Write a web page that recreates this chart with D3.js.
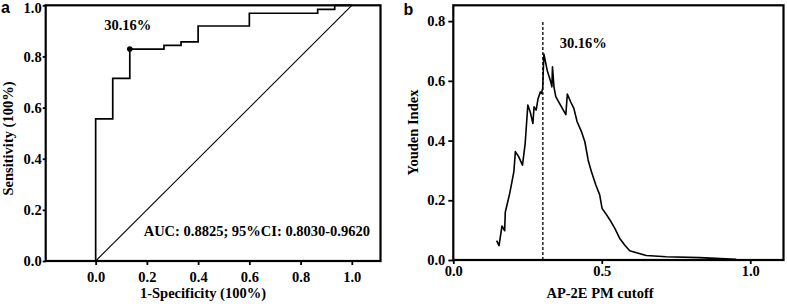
<!DOCTYPE html>
<html>
<head>
<meta charset="utf-8">
<script src="https://cdn.jsdelivr.net/npm/d3@7"></script>
<style>
  body { margin: 0; background: #fff; }
  svg { display: block; }
  .tick text { font-family: "Liberation Serif", "Times New Roman", serif; font-weight: bold; font-size: 14.5px; fill: #000; }
  .lbl { font-family: "Liberation Serif", "Times New Roman", serif; font-weight: bold; font-size: 14.5px; fill: #000; }
  .panel { font-family: "Liberation Sans", Arial, sans-serif; font-weight: bold; font-size: 16px; fill: #000; }
</style>
</head>
<body>
<script>
// ROC curve (panel a) - step corners
var rocFpr = [0, 0, 0.0667, 0.1333, 0.2667, 0.3333, 0.4, 0.6, 0.8667, 0.9333, 1];
var rocTpr = [0, 0.556, 0.714, 0.829, 0.843, 0.857, 0.919, 0.969, 0.984, 1, 1];
var bestFpr = 0.1333, bestTpr = 0.829;

// Youden index vs cutoff (panel b)
var cutoff = [0.146, 0.154, 0.164, 0.173, 0.175, 0.190, 0.204, 0.209, 0.220, 0.233,
              0.242, 0.251, 0.259, 0.268, 0.272, 0.279, 0.285, 0.293, 0.297, 0.301,
              0.305, 0.317, 0.328, 0.332, 0.334, 0.339, 0.345, 0.361, 0.379, 0.384,
              0.395, 0.406, 0.417, 0.432, 0.443, 0.454, 0.465, 0.480, 0.493, 0.501,
              0.513, 0.527, 0.544, 0.560, 0.577, 0.594, 0.617, 0.650, 0.717, 0.830, 0.953];
var youden = [0.065, 0.048, 0.114, 0.098, 0.160, 0.223, 0.296, 0.363, 0.346, 0.318,
              0.390, 0.519, 0.496, 0.457, 0.513, 0.502, 0.538, 0.563, 0.558, 0.575,
              0.690, 0.632, 0.597, 0.580, 0.647, 0.580, 0.547, 0.519, 0.487, 0.556,
              0.530, 0.508, 0.463, 0.429, 0.396, 0.335, 0.296, 0.251, 0.218, 0.173,
              0.156, 0.135, 0.106, 0.073, 0.050, 0.031, 0.024, 0.015, 0.011, 0.008, 0.002];
var bestCutoff = 0.3016;

var ticksA = [0, 0.2, 0.4, 0.6, 0.8, 1.0];
var ticksBx = [0, 0.5, 1.0];
var ticksBy = [0, 0.2, 0.4, 0.6, 0.8];

var w = 787, h = 306;
var svg = d3.select("body").append("svg").attr("width", w).attr("height", h);
var fmt = d3.format(".1f");

// ---------- panel a ----------
var xa = d3.scaleLinear().domain([-0.195, 1.112]).range([45.7, 380.5]);
var ya = d3.scaleLinear().domain([0, 1]).range([261, 5.3]);

var ga = svg.append("g");
ga.append("g").attr("transform", "translate(0,261)")
  .call(d3.axisBottom(xa).tickValues(ticksA).tickFormat(fmt).tickSize(4).tickPadding(7).tickSizeOuter(0));
var yAxA = ga.append("g").attr("transform", "translate(45.7,0)")
  .call(d3.axisLeft(ya).tickValues(ticksA).tickFormat(fmt).tickSize(3).tickPadding(1).tickSizeOuter(0));
// keep the top label inside the picture
yAxA.selectAll(".tick text").filter(function(d) { return d === 1; }).attr("dy", "0.52em");

ga.append("line")
  .attr("x1", xa(0)).attr("y1", ya(0)).attr("x2", xa(1)).attr("y2", ya(1))
  .attr("stroke", "#000").attr("stroke-width", 1.1);

var rocLine = d3.line()
  .x(function(d, i) { return xa(rocFpr[i]); })
  .y(function(d, i) { return ya(rocTpr[i]); })
  .curve(d3.curveStepAfter);
ga.append("path").datum(rocFpr).attr("d", rocLine)
  .attr("fill", "none").attr("stroke", "#000").attr("stroke-width", 1.7);

ga.append("circle").attr("cx", xa(bestFpr)).attr("cy", ya(bestTpr)).attr("r", 2.8).attr("fill", "#000");

ga.append("rect").attr("x", 45.7).attr("y", 5.3).attr("width", 380.5 - 45.7).attr("height", 261 - 5.3)
  .attr("fill", "none").attr("stroke", "#000").attr("stroke-width", 2.2);

ga.append("text").attr("class", "lbl").attr("x", 127.7).attr("y", 30).attr("text-anchor", "middle").text("30.16%");
ga.append("text").attr("class", "lbl").attr("x", 370).attr("y", 235.5).attr("text-anchor", "end")
  .text("AUC: 0.8825; 95%CI: 0.8030-0.9620");
ga.append("text").attr("class", "lbl").attr("x", 203).attr("y", 298).attr("text-anchor", "middle")
  .text("1-Specificity (100%)");
ga.append("text").attr("class", "lbl").attr("text-anchor", "middle")
  .attr("transform", "translate(12.5,138.5) rotate(-90)").text("Sensitivity (100%)");
ga.append("text").attr("class", "panel").attr("x", 1).attr("y", 13).text("a");

// ---------- panel b ----------
var xb = d3.scaleLinear().domain([0, 1.112]).range([453.3, 783.5]);
var yb = d3.scaleLinear().domain([0, 0.853]).range([260, 5.3]);

var gb = svg.append("g");
gb.append("g").attr("transform", "translate(0,260)")
  .call(d3.axisBottom(xb).tickValues(ticksBx).tickFormat(fmt).tickSize(4).tickPadding(2).tickSizeOuter(0));
gb.append("g").attr("transform", "translate(453.3,0)")
  .call(d3.axisLeft(yb).tickValues(ticksBy).tickFormat(fmt).tickSize(5).tickPadding(3).tickSizeOuter(0));

gb.append("line")
  .attr("x1", xb(bestCutoff)).attr("x2", xb(bestCutoff)).attr("y1", yb(0)).attr("y2", yb(0.8))
  .attr("stroke", "#000").attr("stroke-width", 1.3).attr("stroke-dasharray", "3,2");

var youdenLine = d3.line()
  .x(function(d, i) { return xb(cutoff[i]); })
  .y(function(d, i) { return yb(youden[i]); });
gb.append("path").datum(cutoff).attr("d", youdenLine)
  .attr("fill", "none").attr("stroke", "#000").attr("stroke-width", 1.6).attr("stroke-linejoin", "round");

gb.append("rect").attr("x", 453.3).attr("y", 5.3).attr("width", 783.5 - 453.3).attr("height", 260 - 5.3)
  .attr("fill", "none").attr("stroke", "#000").attr("stroke-width", 2.2);

gb.append("text").attr("class", "lbl").attr("x", 583.3).attr("y", 47.5).attr("text-anchor", "middle").text("30.16%");
gb.append("text").attr("class", "lbl").attr("x", 600).attr("y", 298).attr("text-anchor", "middle").text("AP-2E PM cutoff");
gb.append("text").attr("class", "lbl").attr("text-anchor", "middle")
  .attr("transform", "translate(417.5,132.5) rotate(-90)").text("Youden Index");
gb.append("text").attr("class", "panel").attr("x", 403.5).attr("y", 15).text("b");

// axis styling
svg.selectAll(".domain").remove();
svg.selectAll(".tick line").attr("stroke", "#000").attr("stroke-width", 1.8);
</script>
</body>
</html>
